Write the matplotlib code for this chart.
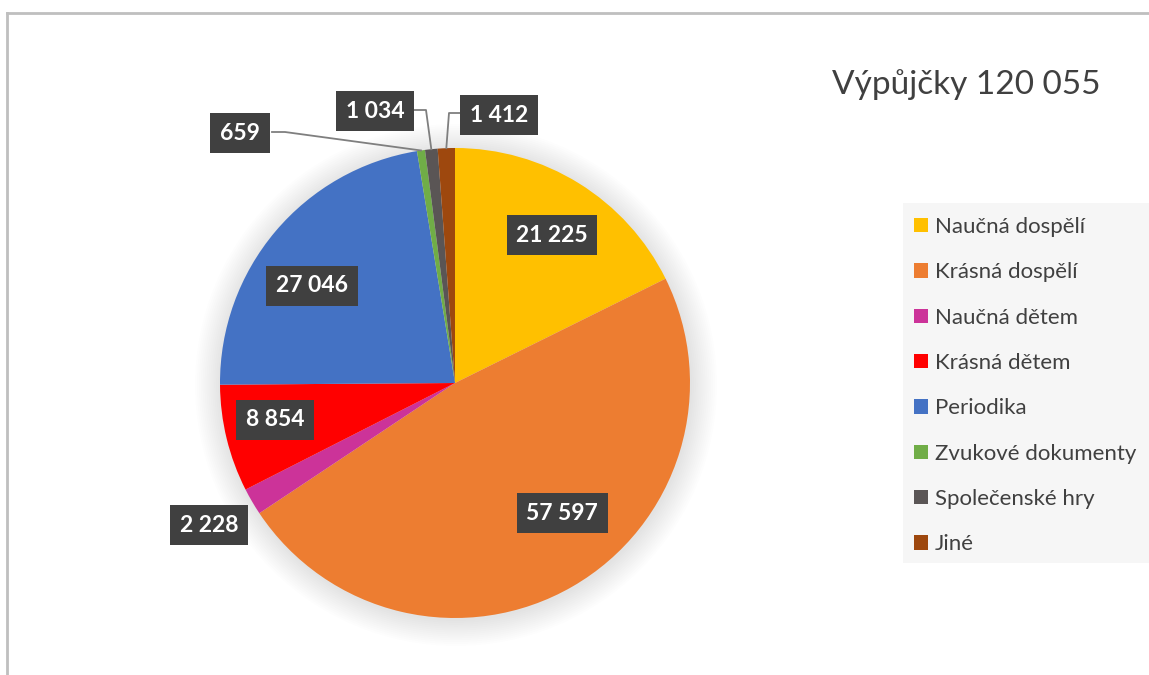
import matplotlib
matplotlib.use("Agg")
import matplotlib.pyplot as plt
from matplotlib.patches import Rectangle, Circle
import numpy as np

plt.rcParams['font.family'] = ['Lato', 'DejaVu Sans']

categories = ["Naučná dospělí", "Krásná dospělí", "Naučná dětem", "Krásná dětem",
              "Periodika", "Zvukové dokumenty", "Společenské hry", "Jiné"]
values = [21225, 57597, 2228, 8854, 27046, 659, 1034, 1412]
value_labels = ["21 225", "57 597", "2 228", "8 854", "27 046", "659", "1 034", "1 412"]
title = "Výpůjčky 120 055"
colors = ["#FFC000", "#ED7D31", "#CC3399", "#FF0000", "#4472C4", "#70AD47", "#5A5555", "#9E480E"]

W, H = 1149, 675
fig = plt.figure(figsize=(W / 100, H / 100), dpi=100)
ax = fig.add_axes([0, 0, 1, 1])

def Y(y):
    return H - y

cx, cy, R = 455, 383, 235

# soft shadow
for r in np.linspace(R + 26, R + 1, 14):
    ax.add_patch(Circle((cx + 1, Y(cy) - 2), r, color="#000000", alpha=0.008, lw=0, zorder=0))

wedges, _ = ax.pie(values, colors=colors, startangle=90, counterclock=False,
                   center=(cx, Y(cy)), radius=R, wedgeprops=dict(linewidth=0))
ax.set_xlim(0, W)
ax.set_ylim(0, H)
ax.set_aspect('equal')
ax.axis('off')

# label box positions (pixel coordinates)
label_pos = [(552, 235), (562, 513), (209, 525), (275, 420), (312, 286),
             (240, 133), (375, 111), (499, 115)]
box = dict(boxstyle="square,pad=0.42", fc="#404040", ec="none")
for lab, (x, y) in zip(value_labels, label_pos):
    ax.text(x, Y(y), lab, color="white", fontsize=16.5, fontweight="bold",
            ha="center", va="center", bbox=box, zorder=5)

# leader lines for small slices
def edge_point(w):
    a = np.deg2rad((w.theta1 + w.theta2) / 2)
    return cx + R * np.cos(a), Y(cy) + R * np.sin(a)

leaders = {5: [(272, 132), (285, 132)], 6: [(413, 110), (426, 110)], 7: [(461, 113), (449, 113)]}
for idx, pts in leaders.items():
    ex, ey = edge_point(wedges[idx])
    xs = [p[0] for p in pts] + [ex]
    ys = [Y(p[1]) for p in pts] + [ey]
    ax.plot(xs, ys, color="#7F7F7F", lw=1.3, zorder=4)

# title
ax.text(832, Y(85), title, fontsize=24, color="#404040", ha="left", va="center")

# legend background
ax.add_patch(Rectangle((903, Y(563)), W - 903, 360, fc="#F6F6F6", ec="none", zorder=1))
leg = ax.legend(wedges, categories, loc="upper left",
                bbox_to_anchor=(914 / W, 1 - 217 / H), bbox_transform=fig.transFigure,
                frameon=False, fontsize=16, labelcolor="#404040",
                handlelength=0.63, handleheight=0.63, handletextpad=0.3,
                labelspacing=1.14, borderaxespad=0, borderpad=0)

# outer border
ax.plot([7, W], [Y(13), Y(13)], color="#BFBFBF", lw=2, clip_on=False)
ax.plot([7, 7], [Y(13), 0], color="#BFBFBF", lw=2, clip_on=False)

fig.savefig("out.png", dpi=100)
